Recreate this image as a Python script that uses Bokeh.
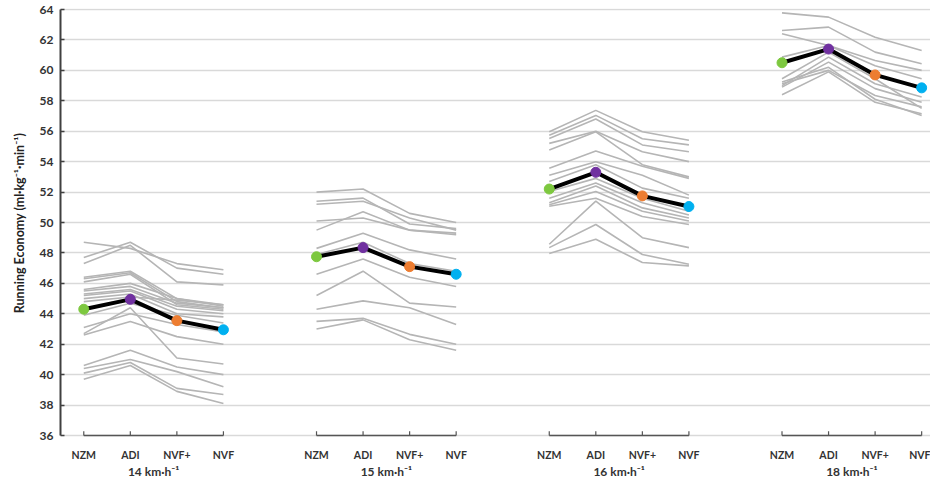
from bokeh.plotting import figure
from bokeh.models import Range1d, FixedTicker, LinearAxis, ColumnDataSource
from bokeh.embed import file_html
from bokeh.resources import INLINE

conditions = ["NZM", "ADI", "NVF+", "NVF"]
speeds = ["14 km·h⁻¹", "15 km·h⁻¹", "16 km·h⁻¹", "18 km·h⁻¹"]
y_ticks = list(range(36, 65, 2))

# individual runners: [NZM, ADI, NVF+, NVF]
runners_14 = [
    [48.7, 48.3, 47.3, 46.9],
    [47.7, 48.7, 47.0, 46.6],
    [47.3, 48.5, 46.1, 45.9],
    [46.4, 46.8, 45.0, 44.6],
    [46.3, 46.7, 44.8, 44.4],
    [46.1, 46.6, 44.6, 44.3],
    [45.6, 46.0, 45.0, 44.5],
    [45.5, 45.8, 44.7, 44.4],
    [45.3, 45.6, 44.5, 44.2],
    [45.2, 45.5, 44.3, 44.0],
    [45.0, 45.3, 44.0, 43.8],
    [44.8, 45.1, 44.9, 44.6],
    [43.9, 44.7, 43.9, 43.4],
    [43.1, 44.0, 43.3, 42.8],
    [42.7, 44.4, 41.1, 40.7],
    [42.6, 43.5, 42.5, 42.0],
    [40.6, 41.6, 40.5, 40.0],
    [40.4, 41.0, 40.2, 39.2],
    [40.1, 40.8, 39.1, 38.7],
    [39.7, 40.6, 38.9, 38.1],
]
runners_15 = [
    [52.0, 52.2, 50.6, 50.0],
    [51.4, 51.6, 49.9, 49.6],
    [51.2, 51.4, 50.3, 49.5],
    [50.1, 50.3, 49.5, 49.2],
    [49.5, 50.7, 49.5, 49.3],
    [48.3, 49.3, 48.2, 47.6],
    [47.9, 48.7, 47.3, 46.8],
    [46.6, 47.6, 46.4, 45.8],
    [45.2, 46.8, 44.7, 44.45],
    [44.3, 44.85, 44.4, 43.3],
    [43.5, 43.7, 42.65, 42.0],
    [43.0, 43.6, 42.3, 41.6],
]
runners_16 = [
    [55.96, 57.37, 55.96, 55.41],
    [55.74, 57.04, 55.5, 55.1],
    [55.52, 56.8, 55.1, 54.65],
    [55.2, 56.0, 54.65, 54.0],
    [54.76, 55.96, 53.8, 53.0],
    [53.57, 54.7, 53.7, 52.9],
    [53.1, 54.0, 53.1, 51.8],
    [52.7, 53.8, 52.26, 51.6],
    [52.04, 52.9, 51.6, 50.74],
    [51.6, 52.6, 51.3, 50.5],
    [51.3, 52.4, 50.96, 50.3],
    [51.17, 52.04, 50.74, 50.1],
    [51.07, 51.6, 50.4, 49.87],
    [48.57, 51.4, 49.0, 48.35],
    [48.35, 49.87, 47.9, 47.26],
    [47.96, 48.9, 47.37, 47.15],
]
runners_18 = [
    [63.78, 63.5, 62.18, 61.3],
    [62.62, 62.84, 61.2, 60.43],
    [62.4, 61.64, 60.65, 60.0],
    [60.87, 61.64, 60.3, 59.45],
    [59.0, 60.87, 59.12, 58.25],
    [58.9, 60.54, 58.8, 57.9],
    [59.12, 60.0, 58.35, 57.6],
    [58.4, 59.9, 57.9, 57.15],
    [59.45, 61.2, 59.45, 57.5],
    [59.23, 60.2, 58.1, 57.04],
]

mean_14 = [44.3, 44.95, 43.55, 42.95]
mean_15 = [47.75, 48.35, 47.1, 46.6]
mean_16 = [52.2, 53.3, 51.75, 51.05]
mean_18 = [60.5, 61.4, 59.7, 58.85]

marker_colors = ["#7dc83f", "#7030a0", "#ed7d31", "#00b0f0"]

groups = [runners_14, runners_15, runners_16, runners_18]
means = [mean_14, mean_15, mean_16, mean_18]

FONT = "Lato"
GROUP_STEP = 5

p = figure(width=930, height=482, x_range=Range1d(-0.5, 18.19),
           y_range=Range1d(35.87, 64.066), output_backend="svg",
           toolbar_location=None, min_border_left=60, min_border_right=0,
           min_border_top=8, min_border_bottom=45)
p.outline_line_color = None
p.background_fill_color = "white"
p.border_fill_color = "white"

# grid
p.xgrid.visible = False
p.ygrid.ticker = FixedTicker(ticks=y_ticks)
p.ygrid.grid_line_color = "#d9d9d9"
p.ygrid.grid_line_width = 1.5

# y axis
ya = p.yaxis[0]
ya.ticker = FixedTicker(ticks=y_ticks)
ya.bounds = (36, 64)
ya.axis_line_width = 2
ya.axis_line_color = "#404040"
ya.major_tick_line_color = "#404040"
ya.major_tick_line_width = 1.5
ya.major_tick_in = 4
ya.major_tick_out = 0
ya.minor_tick_line_color = None
ya.minor_tick_out = 0
ya.major_label_text_font = FONT
ya.major_label_text_font_style = "bold"
ya.major_label_text_font_size = "12px"
ya.major_label_text_color = "#333333"
ya.major_label_standoff = 7
ya.axis_label = "Running Economy (ml·kg⁻¹·min⁻¹)"
ya.axis_label_text_font = FONT
ya.axis_label_text_font_style = "bold"
ya.axis_label_text_font_size = "12.5px"
ya.axis_label_text_color = "#222222"
ya.axis_label_standoff = 10

# x axis (condition labels)
cat_pos = []
cat_names = {}
for g in range(len(speeds)):
    for c, name in enumerate(conditions):
        pos = g * GROUP_STEP + c
        cat_pos.append(pos)
        cat_names[pos] = name
xa = p.xaxis[0]
xa.ticker = FixedTicker(ticks=cat_pos)
xa.major_label_overrides = cat_names
xa.axis_line_color = None
xa.major_tick_line_color = None
xa.major_tick_out = 0
xa.major_tick_in = 0
xa.minor_tick_line_color = None
xa.minor_tick_out = 0
xa.major_label_standoff = 11
xa.major_label_text_font = FONT
xa.major_label_text_font_style = "bold"
xa.major_label_text_font_size = "10.5px"
xa.major_label_text_color = "#333333"

# second x axis (speed labels)
group_centers = [g * GROUP_STEP + (len(conditions) - 1) / 2 for g in range(len(speeds))]
xa2 = LinearAxis(ticker=FixedTicker(ticks=group_centers),
                 major_label_overrides={gc: s for gc, s in zip(group_centers, speeds)})
xa2.axis_line_color = None
xa2.major_tick_line_color = None
xa2.major_tick_out = 0
xa2.major_tick_in = 0
xa2.minor_tick_line_color = None
xa2.minor_tick_out = 0
xa2.major_label_standoff = 0
xa2.major_label_text_font = FONT
xa2.major_label_text_font_style = "bold"
xa2.major_label_text_font_size = "12px"
xa2.major_label_text_color = "#333333"
p.add_layout(xa2, "below")

# brackets per group
y0 = y_ticks[0]
br_x0 = [g * GROUP_STEP for g in range(len(speeds))]
br_x1 = [g * GROUP_STEP + len(conditions) - 1 for g in range(len(speeds))]
p.segment(x0=br_x0, y0=[y0] * len(br_x0), x1=br_x1, y1=[y0] * len(br_x1),
          line_color="#555555", line_width=1.5)
p.segment(x0=cat_pos, y0=[y0] * len(cat_pos), x1=cat_pos, y1=[y0 + 0.28] * len(cat_pos),
          line_color="#555555", line_width=1.2)

# individual lines
xs, ys = [], []
for g, runners in enumerate(groups):
    gx = [g * GROUP_STEP + c for c in range(len(conditions))]
    for r in runners:
        xs.append(gx)
        ys.append(r)
p.multi_line(xs=xs, ys=ys, line_color="#b5b5b5", line_width=1.6)

# mean lines
for g, m in enumerate(means):
    gx = [g * GROUP_STEP + c for c in range(len(conditions))]
    p.line(gx, m, line_color="black", line_width=4)
    src = ColumnDataSource(dict(x=gx, y=m, c=marker_colors))
    p.scatter("x", "y", source=src, size=10, fill_color="c", line_color="c")

open("out.html", "w").write(file_html(p, INLINE))
